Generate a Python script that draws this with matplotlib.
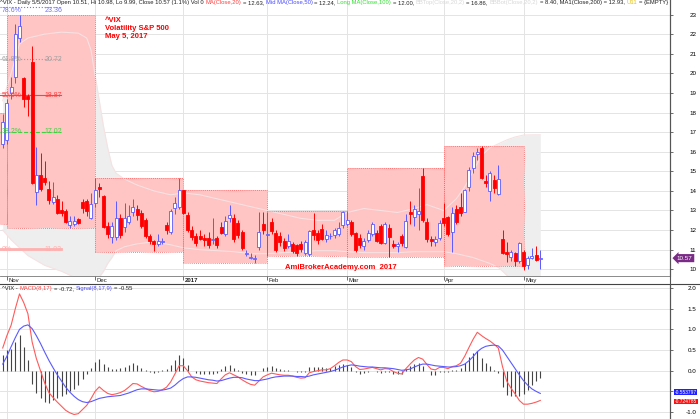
import numpy as np
import matplotlib
matplotlib.use("Agg")
import matplotlib.pyplot as plt
from matplotlib.lines import Line2D

plt.rcParams['font.family'] = ['Liberation Sans', 'DejaVu Sans']

# ^VIX daily bars, 31 Oct 2016 .. 5 May 2017 (index 0 = 31 Oct)
opens = [16.4, 16.6, 19.0, 19.8, 21.8, 19.75, 18.85, 20.6, 13.95, 14.8, 14.65, 14.1, 13.45, 13.6, 13.0, 12.95, 12.25, 12.3, 12.55, 13.45, 13.5, 12.6,
         13.37, 14.2, 13.75, 12.2, 11.65, 11.65, 12.6, 12.15, 12.4, 12.9, 13.1, 12.86, 12.5, 11.7, 11.46, 11.27, 11.38, 12.25, 11.9, 13.15, 13.2,
         14.05, 12.77, 12.0, 11.7, 11.7, 11.62, 11.58, 11.5, 11.58, 12.17, 11.8, 12.6, 12.6, 12.35, 11.9, 10.78, 10.6, 10.55, 11.12, 12.3,
         11.75, 12.4, 11.85, 11.7, 11.45, 11.19, 11.3, 11.24, 11.3, 10.85, 10.8, 12.0, 11.85, 12.05, 11.53, 11.7, 11.75, 11.8, 12.26,
         12.3, 12.4, 11.84, 11.6, 11.19, 11.5, 11.8, 11.87, 12.2, 11.36, 12.09, 11.29, 11.2, 11.7, 11.15, 12.94, 12.65, 12.8, 14.76, 12.43, 11.55, 11.4, 11.58,
         12.6, 12.65, 11.9, 13.1, 13.2, 12.94, 14.2, 15.15, 15.87, 16.2, 14.5, 14.0, 14.55, 13.85, 11.55, 10.9, 10.64, 10.83, 10.44,
         10.9, 10.2, 10.6, 10.75, 10.51]
highs = [17.9, 18.7, 19.8, 22.5, 23.0, 19.8, 18.95, 21.4, 16.25, 15.95, 15.5, 14.5, 14.45, 13.8, 13.5, 13.1, 12.7, 12.7, 12.6, 13.6, 13.6, 13.9,
         14.64, 14.4, 13.8, 12.4, 12.4, 13.5, 12.8, 13.4, 13.3, 13.6, 13.3, 13.0, 12.6, 11.8, 11.5, 11.8, 11.6, 12.4, 13.1, 13.7, 14.68,
         14.07, 12.9, 12.2, 11.85, 12.0, 11.8, 11.9, 12.6, 11.7, 12.4, 12.7, 13.3, 12.8, 12.5, 12.0, 11.0, 10.85, 10.75, 12.94, 12.9,
         12.94, 12.6, 12.0, 11.9, 11.6, 11.8, 11.4, 11.3, 11.45, 11.5, 12.0, 12.85, 12.0, 12.3, 12.0, 11.85, 12.1, 12.4, 12.97,
         12.97, 12.5, 11.9, 11.8, 11.6, 12.0, 12.4, 12.0, 12.3, 12.4, 12.3, 11.5, 11.4, 11.8, 12.8, 13.5, 13.3, 14.13, 15.15, 12.6, 11.7, 11.7, 12.5,
         13.4, 12.7, 13.2, 13.3, 13.9, 14.1, 15.2, 16.0, 16.2, 16.29, 14.8, 15.0, 14.8, 15.3, 12.0, 11.4, 11.0, 10.9, 11.4,
         11.0, 10.7, 11.1, 11.2, 10.98]
lows = [16.2, 16.4, 18.7, 19.5, 21.6, 18.3, 17.8, 14.35, 13.3, 14.0, 14.3, 13.35, 13.35, 12.8, 12.7, 12.35, 12.12, 12.2, 12.3, 12.85, 12.7, 12.55,
        13.2, 13.7, 12.1, 11.6, 11.35, 11.5, 11.6, 11.9, 12.3, 12.7, 12.5, 12.1, 11.6, 11.3, 10.93, 11.2, 11.3, 11.8, 11.8, 12.8, 13.1,
        12.8, 11.9, 11.5, 11.2, 11.5, 11.2, 11.1, 11.3, 11.1, 11.8, 11.7, 12.4, 11.4, 11.6, 11.0, 10.7, 10.5, 10.3, 11.0, 11.8,
        10.68, 11.8, 10.9, 11.2, 10.95, 11.1, 10.85, 10.68, 10.9, 10.75, 10.7, 11.5, 11.3, 11.5, 11.4, 11.55, 11.6, 11.7, 12.1,
        12.2, 11.7, 10.9, 11.1, 11.0, 11.4, 11.7, 11.4, 11.3, 11.3, 10.65, 11.1, 10.9, 11.2, 11.1, 12.3, 12.2, 12.0, 12.4, 11.4, 11.2, 11.2, 11.5,
        12.2, 11.7, 10.9, 12.3, 12.7, 12.9, 14.0, 14.9, 15.6, 14.6, 14.2, 13.5, 13.9, 13.8, 10.8, 10.35, 10.4, 10.18, 10.3,
        9.98, 10.0, 10.5, 10.4, 9.99]
closes = [17.5, 18.5, 19.3, 22.0, 22.4, 18.7, 18.7, 14.4, 14.8, 14.1, 14.45, 13.55, 13.7, 12.85, 12.85, 12.4, 12.45, 12.45, 12.35, 13.15, 12.95, 13.35,
          14.05, 14.12, 12.14, 11.8, 12.22, 12.62, 11.75, 12.64, 12.72, 13.19, 12.79, 12.2, 11.71, 11.45, 11.27, 11.43, 11.44, 11.99, 12.95, 13.37, 14.04,
          12.85, 12.0, 11.67, 11.32, 11.56, 11.49, 11.26, 11.54, 11.23, 11.87, 12.48, 12.78, 11.54, 11.77, 11.07, 10.81, 10.63, 10.58, 11.88, 11.99,
          11.81, 11.93, 10.97, 11.37, 11.1, 11.45, 10.95, 10.85, 11.05, 11.4, 11.97, 11.76, 11.49, 11.57, 11.74, 11.71, 12.0, 12.09, 12.92,
          12.54, 11.81, 10.96, 11.24, 11.45, 11.86, 12.3, 11.45, 11.35, 12.3, 11.63, 11.21, 11.28, 11.34, 12.47, 12.81, 13.1, 12.96, 12.5, 11.53, 11.42, 11.54, 12.37,
          12.38, 11.79, 12.89, 12.39, 12.87, 14.05, 15.07, 15.77, 15.96, 14.66, 14.42, 14.93, 14.15, 14.63, 10.84, 10.78, 10.9, 10.44, 11.33,
          10.18, 10.59, 10.68, 10.46, 10.57]

month_labels = ['Nov', 'Dec', '2017', 'Feb', 'Mar', 'Apr', 'May']
month_start = [1, 22, 43, 63, 82, 105, 124]

# monthly high/low boxes: Oct .. Apr
box_start = [-2, 1, 22, 43, 63, 82, 105]
box_end = [1, 22, 43, 63, 82, 105, 124]
box_hi = [17.97, 22.95, 14.67, 14.05, 12.97, 15.15, 16.29]
box_lo = [12.3, 12.12, 10.87, 10.3, 10.68, 10.61, 10.18]

# Bollinger band (20,2)
bb_x = [0, 2, 4, 6, 10, 14, 18, 20, 21, 22, 23, 24, 25, 26, 27, 29, 32, 36, 40, 43, 47, 51, 55, 59,
        63, 67, 71, 75, 79, 82, 86, 90, 94, 98, 101, 105, 108, 110, 112, 114, 116, 118, 120, 122, 124, 126, 128]
bb_top = [18.6, 20.0, 21.5, 21.8, 22.0, 22.1, 22.05, 21.8, 21.2, 19.9, 18.6, 17.3, 16.2, 15.3, 14.9, 14.6, 14.3, 14.0, 13.8, 13.9, 13.8, 13.6, 13.4, 13.2,
          13.0, 12.8, 12.6, 12.5, 12.5, 12.9, 13.1, 13.0, 12.9, 13.1, 13.3, 13.0, 13.6, 14.2, 15.0, 15.8, 16.2, 16.4, 16.6, 16.75, 16.85, 16.86, 16.86]
bb_bot = [12.0, 11.5, 11.1, 10.7, 10.2, 9.9, 9.5, 9.4, 9.4, 9.45, 9.6, 9.9, 10.3, 10.6, 10.95, 11.15, 11.3, 11.4, 11.25, 11.1, 11.0, 10.95, 10.9, 10.8,
          10.8, 10.85, 10.9, 10.95, 10.95, 10.9, 10.85, 10.85, 10.85, 10.9, 10.9, 10.9, 10.8, 10.7, 10.6, 10.45, 10.3, 10.1, 9.7, 9.3, 8.9, 8.6, 8.4]

# fibonacci levels
fib_pct = ['78.6%', '61.8%', '50.0%', '38.2%', '0%']
fib_val = [23.36, 20.72, 18.87, 17.02, 11.03]
fib_col = ['#7070ff', '#a0a0a0', '#ff4040', '#40d040', '#ffb0b0']
fib_ls = [':', ':', '-', '--', '-']

# MACD(8,17) and signal(9), one value per bar
macd = [0.55, 0.85, 1.10, 1.50, 1.86, 1.65, 1.38, 0.70, 0.30, 0.00,
        -0.30, -0.53, -0.65, -0.76, -0.86, -0.96, -1.02, -1.06, -1.04, -0.94,
        -0.84, -0.68, -0.50, -0.39, -0.48, -0.55, -0.58, -0.56, -0.53, -0.48,
        -0.40, -0.31, -0.32, -0.38, -0.43, -0.48, -0.51, -0.50, -0.46, -0.40,
        -0.27, -0.08, 0.12, 0.12, 0.00, -0.15, -0.22, -0.25, -0.27, -0.29,
        -0.30, -0.31, -0.20, -0.10, -0.05, -0.10, -0.15, -0.22, -0.28, -0.33,
        -0.35, -0.25, -0.15, -0.10, -0.06, -0.08, -0.10, -0.11, -0.11, -0.13,
        -0.16, -0.18, -0.17, -0.05, -0.02, 0.00, 0.02, 0.02, 0.05, 0.12,
        0.20, 0.26, 0.26, 0.22, 0.10, 0.03, 0.04, 0.06, 0.08, 0.05,
        0.02, 0.05, 0.04, -0.02, -0.06, -0.08, 0.05, 0.16, 0.26, 0.32,
        0.28, 0.15, 0.04, 0.02, 0.08, 0.08, 0.05, 0.10, 0.12, 0.18,
        0.35, 0.56, 0.76, 0.93, 0.85, 0.78, 0.72, 0.64, 0.55, 0.10,
        -0.25, -0.42, -0.56, -0.72, -0.81, -0.81, -0.79, -0.76, -0.72]
signal = [0.16, 0.35, 0.58, 0.80, 1.00, 1.08, 1.11, 1.02, 0.85, 0.66,
          0.45, 0.25, 0.07, -0.10, -0.25, -0.40, -0.52, -0.62, -0.70, -0.75,
          -0.77, -0.75, -0.71, -0.67, -0.65, -0.63, -0.62, -0.61, -0.60, -0.57,
          -0.54, -0.50, -0.46, -0.44, -0.44, -0.45, -0.46, -0.47, -0.47, -0.45,
          -0.42, -0.35, -0.26, -0.19, -0.15, -0.15, -0.16, -0.18, -0.20, -0.22,
          -0.23, -0.25, -0.24, -0.21, -0.18, -0.16, -0.16, -0.17, -0.20, -0.22,
          -0.24, -0.24, -0.22, -0.20, -0.17, -0.15, -0.14, -0.13, -0.13, -0.13,
          -0.14, -0.14, -0.15, -0.13, -0.10, -0.08, -0.06, -0.04, -0.02, 0.01,
          0.05, 0.09, 0.12, 0.14, 0.13, 0.11, 0.10, 0.09, 0.09, 0.08,
          0.07, 0.07, 0.06, 0.05, 0.03, 0.01, 0.02, 0.04, 0.09, 0.13,
          0.16, 0.16, 0.14, 0.12, 0.11, 0.10, 0.09, 0.09, 0.10, 0.12,
          0.16, 0.24, 0.34, 0.46, 0.54, 0.59, 0.61, 0.62, 0.60, 0.50,
          0.35, 0.20, 0.05, -0.10, -0.24, -0.35, -0.44, -0.50, -0.55]

RED = '#ff0000'
BLUE = '#5a5aff'
GRID = '#e4e4e4'
AXC = '#555555'

W, H = 700, 419
fig = plt.figure(figsize=(7, 4.19), dpi=100)
ax = fig.add_axes([0, 1 - 276 / H, 670 / W, 276 / H])
mx = fig.add_axes([0, 0, 670 / W, 1 - 284 / H], sharex=ax)

n = len(closes)
x = np.arange(n)
o = np.array(opens); h = np.array(highs); l = np.array(lows); c = np.array(closes)

# --- price panel ---
ax.set_xlim(-0.643, 158.88)
ax.set_ylim(9.658, 23.74)
for v in range(10, 24):
    ax.axhline(v, color=GRID, lw=0.7, zorder=0.2)
for m in month_start:
    ax.axvline(m, color=GRID, lw=0.7, zorder=0.2)

ax.fill_between(bb_x, bb_bot, bb_top, color='#eeeeee', lw=0, zorder=0.5)

for s, e, hi, lo in zip(box_start, box_end, box_hi, box_lo):
    ax.fill_between([s, e], lo, hi, color='#ffc4c4', lw=0, zorder=1)
    ax.plot([s, e, e, s, s], [lo, lo, hi, hi, lo], color='#ff5c5c', lw=0.6,
            ls=(0, (1, 1.5)), zorder=1.2)

ax.plot(bb_x, bb_top, color='#f6e2e2', lw=0.8, zorder=1.1)
ax.plot(bb_x, bb_bot, color='#f6e2e2', lw=0.8, zorder=1.1)

for pct, val, col, ls in zip(fib_pct, fib_val, fib_col, fib_ls):
    lw = 2.0 if pct == '0%' else 0.8
    va = 'top' if pct == '78.6%' else 'center'
    ax.plot([-0.643, 13.8], [val, val], color=col, lw=lw, ls=ls, zorder=2)
    ax.text(-0.2, val, pct, color=col, fontsize=5, va=va, ha='left', zorder=6)
    ax.text(10.0, val, f'{val:.2f}', color=col, fontsize=5, va=va, ha='left', zorder=6)

up = c >= o
cols = np.where(up, BLUE, RED)
ax.vlines(x, l, h, colors=cols, lw=0.7, zorder=3)
ax.bar(x[up], c[up] - o[up], bottom=o[up], width=0.7, color='white',
       edgecolor=BLUE, lw=0.6, zorder=4)
ax.bar(x[~up], o[~up] - c[~up], bottom=c[~up], width=0.7, color=RED,
       edgecolor=RED, lw=0.6, zorder=4)

ax.yaxis.tick_right()
ax.set_yticks(range(10, 24))
ax.tick_params(axis='y', length=2, width=0.6, color=AXC, labelsize=4.5, pad=17)
for t in ax.get_yticklabels():
    t.set_horizontalalignment('right')
ax.set_xticks(month_start)
ax.tick_params(axis='x', direction='out', length=3, width=0.6, color=AXC, labelbottom=False)
for m, lab in zip(month_start, month_labels):
    ax.annotate(lab, xy=(m, 0), xycoords=('data', 'axes fraction'), xytext=(1.2, -1.2),
                textcoords='offset points', fontsize=4.3, va='top', ha='left', color='#222222',
                fontweight='bold' if lab == '2017' else 'normal', annotation_clip=False)
for sp in ['left', 'top']:
    ax.spines[sp].set_visible(False)
ax.spines['right'].set_color(AXC)
ax.spines['bottom'].set_color('#777777')
ax.spines['bottom'].set_linewidth(0.6)
ax.spines['right'].set_linewidth(0.8)

ax.annotate(f'{closes[-1]:.2f}', xy=(1, closes[-1]), xycoords=('axes fraction', 'data'),
            xytext=(5, 0), textcoords='offset points', fontsize=4.5, color='white',
            va='center', ha='left', annotation_clip=False,
            bbox=dict(boxstyle='larrow,pad=0.25', fc='#7a2b86', ec='none'))

fig.text(105 / W, 1 - 17 / H, '^VIX\nVolatility S&P 500\nMay 5, 2017', color=RED,
         fontsize=5.5, fontweight='bold', va='top', ha='left', linespacing=1.25)
fig.text(285 / W, 1 - 267.5 / H, 'AmiBrokerAcademy.com  2017', color=RED,
         fontsize=5.5, fontweight='bold', va='center', ha='left')


def chain(axis, x0, y0, parts, size):
    t = axis.text(x0, y0, parts[0][0], color=parts[0][1], fontsize=size,
                  transform=axis.transAxes, va='top', ha='left', zorder=7)
    for s, col in parts[1:]:
        t = axis.annotate(s, xy=(1, 0), xycoords=t, xytext=(size * 0.28, 0),
                          textcoords='offset points', color=col, fontsize=size,
                          va='bottom', ha='left', zorder=7, annotation_clip=False)
    return t


chain(ax, 0.0, 1.0, [
    ('^VIX - Daily 5/5/2017 Open 10.51, Hi 10.98, Lo 9.99, Close 10.57 (1.1%) Vol 0', '#222222'),
    ('MA(Close,20)', '#ff4040'), ('= 12.63,', '#222222'),
    ('Mid MA(Close,50)', '#4a4aff'), ('= 12.24,', '#222222'),
    ('Long MA(Close,100)', '#33dd33'), ('= 12.00,', '#222222'),
    ('BBTop(Close,20,2)', '#d8d8d8'), ('= 16.86,', '#222222'),
    ('BBBot(Close,20,2)', '#d8d8d8'), ('= 8.40, MA1(Close,200) = 12.93,', '#222222'),
    ('U11', '#e8c000'), ('= {EMPTY}', '#222222')], 4.25)

# --- MACD panel ---
hist = np.array(macd) - np.array(signal)
mx.set_ylim(-1.169, 2.099)
for v in np.arange(-1.0, 2.01, 0.5):
    mx.axhline(v, color=GRID, lw=0.7, zorder=0.2)
for m in month_start:
    mx.axvline(m, color=GRID, lw=0.7, zorder=0.2)
mx.vlines(x, 0, hist, colors='#444444', lw=0.8, zorder=2)
mx.plot(x, macd, color='#ff5a5a', lw=0.8, zorder=3)
mx.plot(x, signal, color='#5a5aff', lw=0.8, zorder=3)

mx.yaxis.tick_right()
macd_ticks = np.arange(-1.0, 2.01, 0.5)
mx.set_yticks(macd_ticks)
# the -0.5 label sits under the value tags, as in the original
mx.set_yticklabels(['' if abs(v + 0.5) < 1e-9 else f'{v:.1f}' for v in macd_ticks])
mx.tick_params(axis='y', length=2, width=0.6, color=AXC, labelsize=4.5, pad=17)
for t in mx.get_yticklabels():
    t.set_horizontalalignment('right')
mx.tick_params(axis='x', length=0, labelbottom=False)
for sp in ['left', 'top', 'bottom']:
    mx.spines[sp].set_visible(False)
mx.spines['right'].set_color(AXC)
mx.spines['right'].set_linewidth(0.8)

for val, col, lab, dy in [(signal[-1], '#2020ff', '-0.553797', 0.8), (macd[-1], '#ff1010', '-0.724785', -0.8)]:
    mx.annotate(lab, xy=(1, val), xycoords=('axes fraction', 'data'),
                xytext=(3.5, dy), textcoords='offset points', fontsize=3.5, color='white',
                va='center', ha='left', annotation_clip=False,
                bbox=dict(boxstyle='square,pad=0.08', fc=col, ec='none'))

chain(mx, 0.003, 0.985, [('^VIX -', '#222222'), ('MACD(8,17)', '#ff4040'), ('= -0.72,', '#222222'),
                         ('Signal(8,17,9)', '#4a4aff'), ('= -0.55', '#222222')], 4.2)

fig.add_artist(Line2D([0, 1], [1 - 284 / H, 1 - 284 / H], color='#444444', lw=0.8))
fig.add_artist(Line2D([670 / W, 670 / W], [0, 1], color=AXC, lw=0.8))

fig.savefig('out.png', dpi=100)
